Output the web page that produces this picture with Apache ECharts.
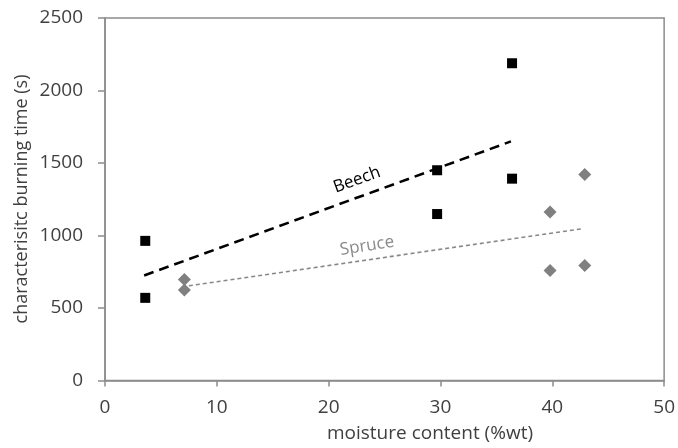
<!DOCTYPE html>
<html><head><meta charset="utf-8">
<script src="https://cdn.jsdelivr.net/npm/echarts@6/dist/echarts.min.js"></script>
<style>html,body{margin:0;padding:0;background:#fff}#c{width:678px;height:448px}</style>
</head><body><div id="c"></div>
<script>
// Beech measurements (moisture %wt, burning time s)
const beechX = [3.6, 3.6, 29.7, 29.7, 36.4, 36.4];
const beechY = [963, 570, 1450, 1148, 2188, 1392];
// Spruce measurements
const spruceX = [7.1, 7.1, 39.8, 39.8, 42.9, 42.9];
const spruceY = [697, 625, 1162, 758, 1421, 793];
// Trend line end points
const beechTrendX = [3.5, 36.3];
const beechTrendY = [724, 1649];
const spruceTrendX = [7.5, 42.8];
const spruceTrendY = [653, 1048];
const xTicks = [0, 10, 20, 30, 40, 50];
const yTicks = [0, 500, 1000, 1500, 2000, 2500];

const zip = (a, b) => a.map((v, i) => [v, b[i]]);
const FONT = 'Open Sans';
const TXT = '#404040';
const AX = '#8c8c8c';

const chart = echarts.init(document.getElementById('c'), null, {renderer: 'canvas'});
chart.setOption({
  animation: false,
  grid: {left: 105, right: 12, top: 18, bottom: 67.5, show: true, borderColor: AX, borderWidth: 1.5, backgroundColor: 'transparent'},
  xAxis: {
    type: 'value', min: xTicks[0], max: xTicks[xTicks.length - 1], interval: 10,
    axisLine: {show: true, lineStyle: {color: AX, width: 1.5}},
    axisTick: {show: true, inside: false, length: 6, lineStyle: {color: AX, width: 1.5}},
    axisLabel: {fontFamily: FONT, fontSize: 19, color: TXT, margin: 18, formatter: v => String(v)},
    splitLine: {show: false}
  },
  yAxis: {
    type: 'value', min: yTicks[0], max: yTicks[yTicks.length - 1], interval: 500,
    axisLine: {show: true, lineStyle: {color: AX, width: 1.5}},
    axisTick: {show: true, inside: false, length: 7, lineStyle: {color: AX, width: 1.5}},
    axisLabel: {fontFamily: FONT, fontSize: 19, color: TXT, margin: 22, formatter: v => String(v)},
    splitLine: {show: false}
  },
  series: [
    {type: 'line', data: zip(beechTrendX, beechTrendY), showSymbol: false, symbol: 'none',
     lineStyle: {color: '#000', width: 2.6, type: [10, 6]}, z: 2},
    {type: 'line', data: zip(spruceTrendX, spruceTrendY), showSymbol: false, symbol: 'none',
     lineStyle: {color: '#888', width: 1.6, type: [4, 3]}, z: 2},
    {type: 'scatter', name: 'Beech', data: zip(beechX, beechY), symbol: 'rect', symbolSize: 10,
     itemStyle: {color: '#000', opacity: 1}, z: 3},
    {type: 'scatter', name: 'Spruce', data: zip(spruceX, spruceY), symbol: 'diamond', symbolSize: [13, 13],
     itemStyle: {color: '#808080', opacity: 1}, z: 3}
  ],
  graphic: [
    {type: 'text', x: 430, y: 434,
     style: {text: 'moisture content (%wt)', fontFamily: FONT, fontSize: 19, fill: TXT, align: 'center', verticalAlign: 'middle'}},
    {type: 'text', x: 22, y: 199, rotation: Math.PI / 2,
     style: {text: 'characterisitc burning time (s)', fontFamily: FONT, fontSize: 18, fill: TXT, align: 'center', verticalAlign: 'middle'}},
    {type: 'text', x: 357, y: 180, rotation: 20 * Math.PI / 180,
     style: {text: 'Beech', fontFamily: FONT, fontSize: 17, fill: '#000', align: 'center', verticalAlign: 'middle'}},
    {type: 'text', x: 367, y: 246, rotation: 9 * Math.PI / 180,
     style: {text: 'Spruce', fontFamily: FONT, fontSize: 17, fill: '#8a8a8a', align: 'center', verticalAlign: 'middle'}}
  ]
});
</script></body></html>
